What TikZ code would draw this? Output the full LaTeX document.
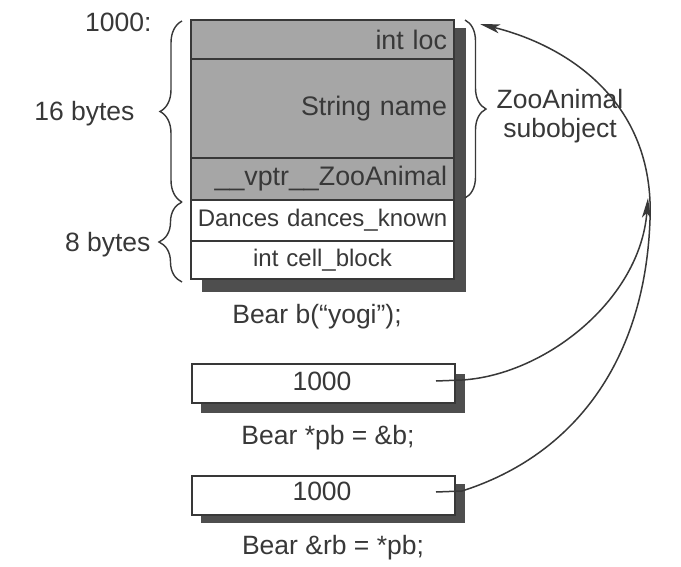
\documentclass[tikz,border=0pt]{standalone}
\usepackage{fontspec}
\setmainfont{Liberation Sans}
\usetikzlibrary{decorations.pathreplacing,arrows.meta}
\definecolor{ink}{HTML}{383838}
\definecolor{cellgrey}{HTML}{A6A6A6}
\definecolor{shade}{HTML}{4E4E4E}
\begin{document}
\begin{tikzpicture}[x=1pt,y=-1pt,
  every node/.style={text=ink},
  big/.style={font=\fontsize{26.5}{29}\selectfont},
  cellbase/.style={draw=ink, line width=2pt, anchor=north west, inner sep=0pt, outer sep=0pt, minimum width=263pt},
  greycell/.style={cellbase, fill=cellgrey, text width=249pt, inner xsep=7pt, align=right, font=\fontsize{26.8}{30}\selectfont},
  whitecell/.style={cellbase, fill=white, text width=263pt, align=center, font=\fontsize{24}{28}\selectfont},
  ptrbox/.style={draw=ink, line width=2pt, fill=white, minimum width=263pt, minimum height=39pt, inner sep=0pt, font=\fontsize{26.5}{29}\selectfont},
  shadow/.style={fill=shade},
  curly/.style={draw=ink, line width=1.4pt, decorate, decoration={brace, amplitude=#1}},
  link/.style={draw=ink, line width=1.5pt},
  head/.style={-{Stealth[length=20pt,width=9pt,inset=5pt]}}
]
\useasboundingbox (0,0) rectangle (681,566);
\fill[white] (0,0) rectangle (681,566);

% main object
\fill[shadow] (202,28) rectangle (466,292);
\node[greycell, minimum height=39pt] (loc) at (191,20) {int loc};
\node[greycell, minimum height=99pt] (name) at (191,59) {String name};
\node[greycell, minimum height=42pt] (vptr) at (191,158) {\_\_vptr\_\_ZooAnimal};
\node[whitecell, minimum height=41pt] (dances) at (191,200) {Dances dances\_known};
\node[whitecell, minimum height=38pt] (cell) at (191,241) {int cell\_block};
\draw[ink, line width=2.6pt] (loc.north west) rectangle (cell.south east);

% braces and labels
\draw[curly=22pt] (182,202) -- (182,21);
\draw[curly=23pt] (182,282) -- (182,202);
\draw[curly=21pt] (465,20) -- (465,198);
\node[big, anchor=base east] (addr) at (155,31) {1000:};
\node[big, anchor=base east] (b16) at (138,120) {16 bytes};
\node[big, anchor=base east] (b8) at (154,251) {8 bytes};
\node[big, align=center] (sub) at (560,116) {ZooAnimal\\subobject};
\node[big, anchor=base] (lbl1) at (317,323) {Bear b(“yogi”);};

% pointer boxes
\fill[shadow] (201,374) rectangle (465,413);
\node[ptrbox, anchor=north west] (pb) at (191,363) {};
\node[big, anchor=base] (pbval) at (322,390) {1000};
\node[big, anchor=base] (lbl2) at (328,444) {Bear *pb = \&b;};

\fill[shadow] (201,484) rectangle (465,523);
\node[ptrbox, anchor=north west] (rb) at (191,475) {};
\node[big, anchor=base] (rbval) at (322,500) {1000};
\node[big, anchor=base] (lbl3) at (333,554) {Bear \&rb = *pb;};

% connectors
\coordinate (pbptr) at (436,381);
\coordinate (rbptr) at (436,492);
\coordinate (objtop) at (480,24);
\coordinate (merge) at (648,198);
\draw[link, head] (pbptr) -- (462,380) .. controls (545,375) and (640,300) .. (merge);
\draw[link, head] (rbptr) -- (462,491) .. controls (575,455) and (645,360) .. (650,220)
  .. controls (655,100) and (565,45) .. (objtop);
\end{tikzpicture}
\end{document}
